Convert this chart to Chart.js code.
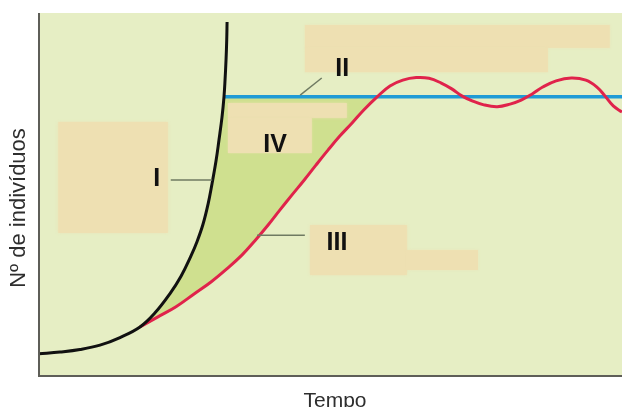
<!DOCTYPE html>
<html lang="pt-br">
<head>
    <meta charset="UTF-8">
    <title>Crescimento populacional</title>
    <script src="https://cdn.jsdelivr.net/npm/chart.js"></script>
    <style>
        html, body { margin: 0; padding: 0; background: #fff; }
        #wrap { width: 622px; height: 407px; }
    </style>
</head>
<body>
    <div id="wrap"><canvas id="grafico"></canvas></div>

    <script>
        // Curva I - crescimento exponencial (tempo, nº de indivíduos)
        const tempoI = [0, 3.60, 7.03, 10.46, 13.89, 17.32, 19.90, 22.47, 24.36, 26.07, 27.10, 28.13, 28.99, 29.67, 30.36, 30.87, 31.39, 31.73, 31.91, 32.08, 32.20, 32.26];
        const individuosI = [6.1, 6.6, 7.3, 8.5, 10.6, 13.5, 17.4, 22.7, 27.5, 33.1, 37.0, 41.8, 47.3, 52.9, 59.2, 65.0, 71.3, 76.9, 81.5, 87.1, 92.6, 97.5];

        // Curva III - crescimento logístico, oscilando em torno de II
        const tempoIII = [17.32, 20.4, 23.5, 26.6, 29.5, 32.2, 34.8, 37.0, 39.3, 41.3, 43.4, 45.5, 47.5, 49.6, 51.6, 53.7, 55.7, 58.0,
            60.2, 62.4, 64.7, 66.9, 69.0, 70.8, 72.6, 74.3, 76.3, 78.6, 80.8, 82.7, 84.6, 86.4, 88.7, 91.3, 93.8, 95.7, 97.1, 98.5, 100];
        const individuosIII = [13.5, 16.3, 19.1, 22.6, 25.9, 29.5, 33.3, 37.2, 41.6, 45.7, 49.9, 54.0, 58.1, 62.3, 66.1, 69.7, 73.3, 76.9,
            79.9, 81.5, 82.2, 82.0, 80.7, 79.1, 77.1, 75.8, 74.7, 74.2, 74.9, 76.0, 77.7, 79.6, 81.3, 82.1, 81.5, 79.6, 77.1, 74.4, 72.7];

        // Linha II - capacidade de suporte
        const tempoII = [31.7, 100];
        const capacidadeII = 76.9;

        // Rótulos I, II, III, IV (posição em tempo / indivíduos)
        const rotulos = ["I", "II", "III", "IV"];
        const rotuloX = [20.2, 52.0, 51.1, 40.5];
        const rotuloY = [54.3, 84.6, 36.6, 63.6];

        // traços que ligam os rótulos às curvas [x1, y1, x2, y2]
        const tracos = [
            [22.6, 54.0, 29.7, 54.0],
            [44.8, 77.4, 48.5, 82.1],
            [37.4, 38.8, 45.6, 38.8]
        ];

        // manchas bege (texto apagado do original) [x1, x2, y1, y2]
        const manchas = [
            [3.3, 22.1, 39.4, 70.0],
            [45.6, 97.9, 90.4, 96.7],
            [45.6, 87.3, 83.7, 90.4],
            [32.4, 52.8, 71.1, 75.2],
            [32.4, 46.8, 61.4, 71.1],
            [46.5, 63.1, 27.8, 41.6],
            [63.1, 75.3, 29.2, 34.7]
        ];

        const pontosI = tempoI.map((t, i) => ({ x: t, y: individuosI[i] }));
        const pontosIII = tempoIII.map((t, i) => ({ x: t, y: individuosIII[i] }));
        const pontosII = tempoII.map(t => ({ x: t, y: capacidadeII }));

        // área IV: entre a curva I e a curva III, abaixo da linha II
        const inicioIII = tempoIII[0];
        const areaIV = pontosI.filter(p => p.x >= inicioIII && p.y <= capacidadeII)
            .concat(pontosIII.filter(p => p.y <= capacidadeII && p.x <= 58.0).reverse());

        const fundoPlot = {
            id: "fundoPlot",
            beforeDatasetsDraw(chart) {
                const { ctx, chartArea: a } = chart;
                ctx.save();
                ctx.fillStyle = "#e6eec4";
                ctx.fillRect(a.left, a.top, a.right - a.left, a.bottom - a.top);
                ctx.restore();
            },
            afterDatasetsDraw(chart) {
                const { ctx, chartArea: a, scales } = chart;
                const x = scales.x, y = scales.y;
                ctx.save();
                // manchas
                ctx.fillStyle = "#eee0b2";
                ctx.shadowColor = "rgba(238,224,178,0.8)";
                ctx.shadowBlur = 3;
                manchas.forEach(m => {
                    const x1 = x.getPixelForValue(m[0]), x2 = x.getPixelForValue(m[1]);
                    const y1 = y.getPixelForValue(m[3]), y2 = y.getPixelForValue(m[2]);
                    ctx.fillRect(x1, y1, x2 - x1, y2 - y1);
                });
                ctx.shadowBlur = 0;
                ctx.shadowColor = "transparent";
                // eixos
                ctx.strokeStyle = "#5e5e58";
                ctx.lineWidth = 2;
                ctx.beginPath();
                ctx.moveTo(a.left, a.top);
                ctx.lineTo(a.left, a.bottom);
                ctx.lineTo(a.right, a.bottom);
                ctx.stroke();
                // traços dos rótulos
                ctx.strokeStyle = "#6f7a62";
                ctx.lineWidth = 1.5;
                tracos.forEach(t => {
                    ctx.beginPath();
                    ctx.moveTo(x.getPixelForValue(t[0]), y.getPixelForValue(t[1]));
                    ctx.lineTo(x.getPixelForValue(t[2]), y.getPixelForValue(t[3]));
                    ctx.stroke();
                });
                // rótulos
                ctx.fillStyle = "#111";
                ctx.font = "bold 25px 'Liberation Sans', Arial, sans-serif";
                ctx.textAlign = "center";
                ctx.textBaseline = "middle";
                rotulos.forEach((r, i) => {
                    ctx.fillText(r, x.getPixelForValue(rotuloX[i]), y.getPixelForValue(rotuloY[i]));
                });
                // títulos dos eixos
                ctx.fillStyle = "#2e2e2e";
                ctx.font = "21px 'Liberation Sans', Arial, sans-serif";
                ctx.fillText("Tempo", 335, 401);
                ctx.translate(19, 208);
                ctx.rotate(-Math.PI / 2);
                ctx.font = "22px 'Liberation Sans', Arial, sans-serif";
                ctx.fillText("Nº de indivíduos", 0, 0);
                ctx.restore();
            }
        };

        new Chart(document.getElementById("grafico"), {
            type: "scatter",
            data: {
                datasets: [
                    { label: "I", data: pontosI, borderColor: "#111111", borderWidth: 3, showLine: true, pointRadius: 0, tension: 0.4 },
                    { label: "III", data: pontosIII, borderColor: "#e0234b", borderWidth: 3, showLine: true, pointRadius: 0, tension: 0.4 },
                    { label: "II", data: pontosII, borderColor: "#1f9bd6", borderWidth: 3.5, showLine: true, pointRadius: 0 },
                    { label: "IV", data: areaIV, borderWidth: 0, borderColor: "rgba(0,0,0,0)", backgroundColor: "#cfe08f", fill: "shape", showLine: true, pointRadius: 0 }
                ]
            },
            options: {
                responsive: true,
                maintainAspectRatio: false,
                animation: false,
                layout: { padding: { left: 39, top: 13, right: 0, bottom: 31 } },
                plugins: { legend: { display: false }, tooltip: { enabled: false } },
                scales: {
                    x: { type: "linear", min: 0, max: 100, display: false },
                    y: { type: "linear", min: 0, max: 100, display: false }
                }
            },
            plugins: [fundoPlot]
        });
    </script>
</body>
</html>
